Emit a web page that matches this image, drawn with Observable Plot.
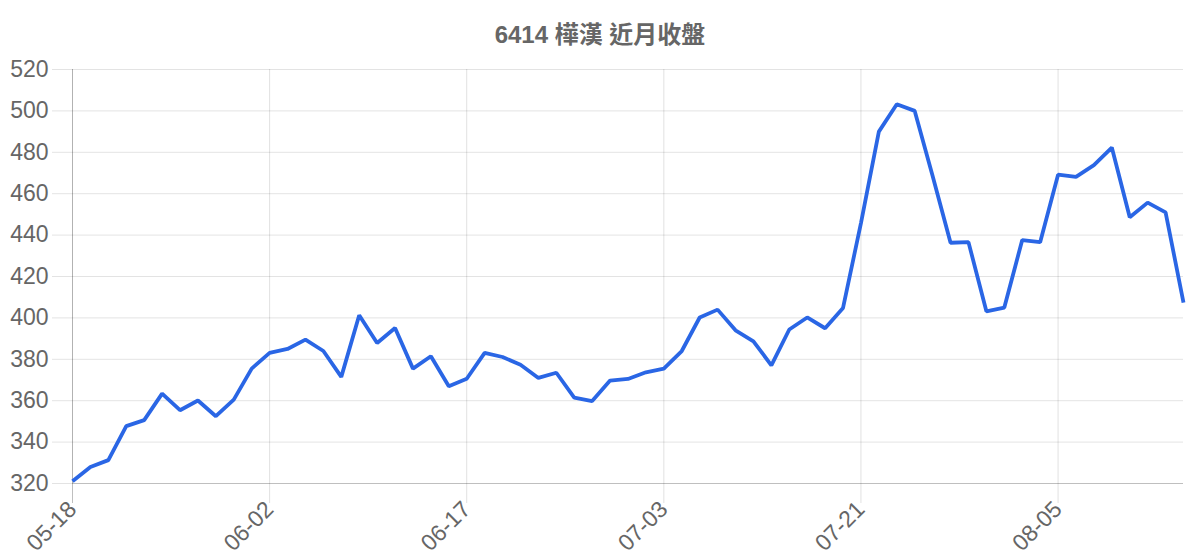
<!DOCTYPE html>
<html>
<head>
<meta charset="utf-8">
<script src="https://cdn.jsdelivr.net/npm/d3@7"></script>
<script src="https://cdn.jsdelivr.net/npm/@observablehq/plot@0.6"></script>
<style>
  html, body { margin: 0; padding: 0; background: #fff; }
  #title {
    height: 40px; box-sizing: border-box; padding-top: 22px;
    font: bold 24px "Liberation Sans", Arial, "Noto Sans CJK TC", sans-serif;
    line-height: 26px; color: #666; text-align: center;
  }
  svg { display: block; }
</style>
</head>
<body>
<div id="title">6414 樺漢 近月收盤</div>
<div id="chart"></div>
<script>
const dates = [
  "05-18","05-19","05-22","05-23","05-24","05-25","05-26","05-29","05-30","05-31","06-01",
  "06-02","06-05","06-06","06-07","06-08","06-09","06-12","06-13","06-14","06-15","06-16",
  "06-17","06-19","06-20","06-21","06-22","06-23","06-26","06-27","06-28","06-29","06-30",
  "07-03","07-04","07-05","07-06","07-07","07-10","07-11","07-12","07-14","07-18","07-20",
  "07-21","07-24","07-25","07-26","07-27","07-28","07-31","08-01","08-02","08-03","08-04",
  "08-05","08-07","08-08","08-09","08-10","08-11","08-14","08-15"
];
const closes = [
  321.1, 328.0, 331.3, 347.7, 350.6, 363.4, 355.4, 360.1, 352.5, 360.5, 375.5,
  383.1, 385.0, 389.5, 384.0, 371.5, 401.3, 387.9, 395.1, 375.5, 381.5, 367.0,
  370.6, 383.1, 381.1, 377.4, 371.0, 373.5, 361.5, 359.8, 369.7, 370.5, 373.7,
  375.5, 384.0, 400.2, 404.0, 394.0, 388.7, 377.1, 394.4, 400.2, 395.0, 404.8,
  445.8, 490.0, 503.2, 500.0, 468.5, 436.3, 436.6, 403.2, 405.0, 437.6, 436.6,
  469.2, 468.1, 473.8, 482.3, 448.6, 455.7, 451.0, 407.4
];
const tickDates = ["05-18","06-02","06-17","07-03","07-21","08-05"];
const yTicks = [320, 340, 360, 380, 400, 420, 440, 460, 480, 500, 520];

const data = dates.map((d, i) => ({date: d, close: closes[i]}));

const chart = Plot.plot({
  width: 1200,
  height: 520,
  marginLeft: 72,
  marginRight: 17,
  marginTop: 29,
  marginBottom: 77,
  style: {fontFamily: "'Liberation Sans', Arial, sans-serif", background: "#fff"},
  x: {type: "point", domain: dates, padding: 0},
  y: {domain: [320, 520]},
  marks: [
    Plot.gridY(yTicks.slice(1), {stroke: "#000", strokeOpacity: 0.11}),
    Plot.gridX(tickDates.slice(1), {stroke: "#000", strokeOpacity: 0.12}),
    Plot.axisY(yTicks, {tickSize: 20, tickPadding: 4, fontSize: 23, fill: "#666", stroke: "#000", strokeOpacity: 0.11, label: null}),
    Plot.axisX(tickDates.slice(1), {tickSize: 20, tickPadding: 2, tickRotate: -45, fontSize: 23, fill: "#666", stroke: "#000", strokeOpacity: 0.12, label: null}),
    Plot.axisX([tickDates[0]], {tickSize: 20, tickPadding: 2, tickRotate: -45, fontSize: 23, fill: "#666", stroke: "#000", strokeOpacity: 0.25, label: null}),
    Plot.ruleY([320], {stroke: "#000", strokeOpacity: 0.25}),
    Plot.ruleX([tickDates[0]], {stroke: "#000", strokeOpacity: 0.3}),
    Plot.lineY(data, {x: "date", y: "close", stroke: "#2a66e5", strokeWidth: 3.8, strokeLinejoin: "miter", strokeLinecap: "butt"})
  ]
});
document.getElementById("chart").appendChild(chart);
</script>
</body>
</html>
